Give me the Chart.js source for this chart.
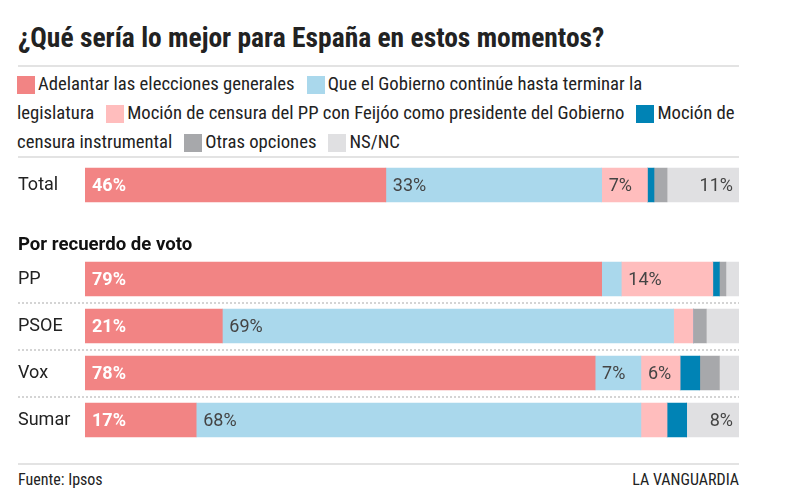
<!DOCTYPE html>
<html>
<head>
<meta charset="utf-8">
<script src="https://cdn.jsdelivr.net/npm/chart.js@4"></script>
<style>
  body { margin: 0; background: #fff; width: 785px; height: 494px; overflow: hidden; position: relative;
         font-family: "Roboto Condensed", "Liberation Sans Narrow", "DejaVu Sans Condensed", Roboto, sans-serif; color: #222; }
  #title { position: absolute; left: 18px; top: 21px; font-size: 27.5px; font-weight: bold; line-height: 34px; white-space: nowrap; }
  .rule { position: absolute; left: 18px; width: 721px; border-top: 2px solid #e3e3e3; }
  #legend { position: absolute; left: 17px; top: 70px; width: 723px; font-size: 18.7px; line-height: 28px; }
  /* cuadro de color como caja en línea, sin punto de corte delante */
  .sw { padding-left: 18px; margin-right: 3px; font-size: 15.4px; }
  .item { margin-right: 12px; }
  #wrap { position: absolute; left: 0; top: 157px; width: 785px; height: 292px; }
  .foot { position: absolute; top: 470px; font-size: 16px; line-height: 20px; }
</style>
</head>
<body>
<div id="title">¿Qué sería lo mejor para España en estos momentos?</div>
<div class="rule" style="top:65px"></div>
<div id="legend"></div>
<div class="rule" style="top:156px"></div>
<div id="wrap"><canvas id="grafico"></canvas></div>
<div class="rule" style="top:463px"></div>
<div class="foot" style="left:18px">Fuente: Ipsos</div>
<div class="foot" style="right:46px">LA VANGUARDIA</div>
<script>
// categorías (la segunda fila vacía deja sitio al subtítulo)
const categorias = ["Total", "", "PP", "PSOE", "Vox", "Sumar"];
const subtitulo = "Por recuerdo de voto";

const series = [
  "Adelantar las elecciones generales",
  "Que el Gobierno continúe hasta terminar la legislatura",
  "Moción de censura del PP con Feijóo como presidente del Gobierno",
  "Moción de censura instrumental",
  "Otras opciones",
  "NS/NC"
];

// porcentajes
const adelantar   = [46, null, 79, 21, 78, 17];
const continuar   = [33, null,  3, 69,  7, 68];
const mocionPP    = [ 7, null, 14,  3,  6,  4];
const mocionInstr = [ 1, null,  1,  0,  3,  3];
const otras       = [ 2, null,  1,  2,  3,  0];
const nsnc        = [11, null,  2,  5,  3,  8];

const valores = [adelantar, continuar, mocionPP, mocionInstr, otras, nsnc];
const colores = ["#f28484", "#aad8ec", "#ffbdbd", "#0083b5", "#a7a8ab", "#e0e0e2"];

// leyenda en HTML
const leyenda = document.getElementById("legend");
series.forEach((nombre, i) => {
  const item = document.createElement("span");
  item.className = "item";
  item.innerHTML = '<span class="sw" style="background:' + colores[i] + '"></span>' + nombre;
  leyenda.appendChild(item);
});

// etiquetas dentro de las barras (solo a partir del 6%)
const etiquetas = {
  id: "etiquetas",
  afterDatasetsDraw(chart) {
    const ctx = chart.ctx;
    ctx.save();
    ctx.textBaseline = "middle";
    chart.data.datasets.forEach((ds, di) => {
      chart.getDatasetMeta(di).data.forEach((bar, i) => {
        const v = ds.data[i];
        if (v == null || v < 6) return;
        const p = bar.getProps(["x", "y", "base"], true);
        const texto = v + "%";
        if (di === 0) {
          ctx.fillStyle = "#fff";
          ctx.font = "bold 18px Roboto";
        } else {
          ctx.fillStyle = "#444";
          ctx.font = "18px Roboto";
        }
        if (di === series.length - 1) {
          ctx.textAlign = "right";
          ctx.fillText(texto, p.x - 6, p.y + 1);
        } else {
          ctx.textAlign = "left";
          ctx.fillText(texto, p.base + 7, p.y + 1);
        }
      });
    });
    ctx.restore();
  }
};

// subtítulo y separadores punteados
const extras = {
  id: "extras",
  afterDraw(chart) {
    const ctx = chart.ctx;
    const y = chart.scales.y;
    ctx.save();
    ctx.fillStyle = "#111";
    ctx.font = "bold 18.6px Roboto";
    ctx.textBaseline = "middle";
    ctx.textAlign = "left";
    ctx.fillText(subtitulo, 18, y.getPixelForValue(1) + 13.5);
    ctx.strokeStyle = "#d4d4d4";
    ctx.lineWidth = 2;
    ctx.setLineDash([2, 2]);
    for (let i = 2; i < categorias.length - 1; i++) {
      const yy = Math.round((y.getPixelForValue(i) + y.getPixelForValue(i + 1)) / 2);
      ctx.beginPath();
      ctx.moveTo(18, yy);
      ctx.lineTo(chart.chartArea.right, yy);
      ctx.stroke();
    }
    ctx.restore();
  }
};

new Chart(document.getElementById("grafico"), {
  type: "bar",
  data: {
    labels: categorias,
    datasets: series.map((nombre, i) => ({
      label: nombre,
      data: valores[i],
      backgroundColor: colores[i],
      borderWidth: 0,
      barThickness: 34
    }))
  },
  options: {
    indexAxis: "y",
    responsive: true,
    maintainAspectRatio: false,
    animation: false,
    layout: { padding: { left: 18, right: 46, top: 4.5, bottom: 5.5 } },
    plugins: {
      legend: { display: false },
      tooltip: { enabled: false }
    },
    scales: {
      x: { stacked: true, min: 0, max: 100, display: false },
      y: {
        stacked: true,
        grid: { display: false },
        border: { display: false },
        afterFit(scale) {
          scale.width = 67;
          scale.paddingTop = 0;
          scale.paddingBottom = 0;
        },
        ticks: {
          crossAlign: "far",
          color: "#222",
          font: { family: "Roboto", size: 18 }
        }
      }
    }
  },
  plugins: [etiquetas, extras]
});
</script>
</body>
</html>
